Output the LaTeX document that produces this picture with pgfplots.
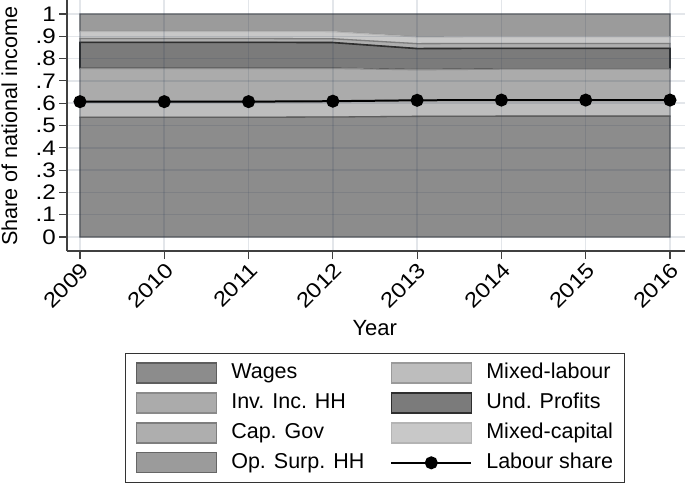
\documentclass[border=0pt]{standalone}
\usepackage{pgfplots}
\usepackage{pgfplotstable}
\pgfplotsset{compat=1.18}
\usepackage{fontspec}
\setmainfont{Liberation Sans}
\newfontfamily\tickfont[FakeStretch=1.15]{Liberation Sans}

\definecolor{fWages}{HTML}{8C8C8C}\definecolor{oWages}{HTML}{5E5E5E}
\definecolor{fMixLab}{HTML}{BDBDBD}\definecolor{oMixLab}{HTML}{9A9A9A}
\definecolor{fInvInc}{HTML}{ABABAB}\definecolor{oInvInc}{HTML}{8A8A8A}
\definecolor{fUndProf}{HTML}{7B7B7B}\definecolor{oUndProf}{HTML}{2E2E2E}
\definecolor{fCapGov}{HTML}{AEAEAE}\definecolor{oCapGov}{HTML}{7E7E7E}
\definecolor{fMixCap}{HTML}{C8C8C8}\definecolor{oMixCap}{HTML}{B4B4B4}
\definecolor{fOpSurp}{HTML}{9B9B9B}\definecolor{oOpSurp}{HTML}{666666}
\definecolor{gridc}{HTML}{1A3050}

\pgfplotstableread{
year wages mixlab invinc undprof capgov mixcap opsurp labour
2009 0.537 0.070 0.149 0.117 0.017 0.032 0.078 0.607
2010 0.537 0.070 0.149 0.117 0.017 0.032 0.078 0.607
2011 0.537 0.070 0.149 0.117 0.017 0.032 0.078 0.607
2012 0.538 0.071 0.147 0.116 0.017 0.032 0.079 0.609
2013 0.541 0.072 0.137 0.095 0.022 0.030 0.103 0.613
2014 0.542 0.072 0.139 0.093 0.022 0.030 0.102 0.614
2015 0.542 0.072 0.139 0.093 0.022 0.030 0.102 0.614
2016 0.542 0.072 0.139 0.093 0.022 0.030 0.102 0.614
}\data

\pgfplotsset{
  base/.style={
    at={(0,0)}, anchor=south west,
    scale only axis, width=618bp, height=251bp,
    xmin=2008.846, xmax=2016.178,
    ymin=-0.0628, ymax=1.0628,
  },
  arealeg/.style={legend image code/.code={\draw[##1] (0bp,-10bp) rectangle (80bp,10bp);}},
  lineleg/.style={legend image code/.code={\draw[##1, mark repeat=2, mark phase=2] plot coordinates {(0bp,0bp) (40bp,0bp) (80bp,0bp)};}},
}

\begin{document}
\begin{tikzpicture}
\begin{axis}[base,
  stack plots=y,
  axis on top,
  axis x line*=bottom, axis y line*=left,
  axis line style={-, draw=black!75, line width=1.2bp},
  tick align=outside,
  major tick length=8bp,
  tick style={draw=black!75, line width=1.1bp},
  xtick={2009,2010,...,2016},
  xticklabels={2009,2010,2011,2012,2013,2014,2015,2016},
  ytick={0,0.1,0.2,0.3,0.4,0.5,0.6,0.7,0.8,0.9,1},
  yticklabels={0,.1,.2,.3,.4,.5,.6,.7,.8,.9,1},
  grid=major,
  major grid style={draw=gridc, opacity=0.12, line width=1.6bp},
  xticklabel style={rotate=45, anchor=north east, inner sep=1.5bp, font=\tickfont\fontsize{21bp}{24bp}\selectfont},
  yticklabel style={anchor=east, inner sep=3bp, font=\tickfont\fontsize{21bp}{24bp}\selectfont},
  xlabel={Year},
  ylabel={Share of national income},
  xlabel style={at={(axis description cs:0.498,-0.307)}, anchor=center, font=\fontsize{22bp}{25bp}\selectfont},
  ylabel style={at={(axis description cs:-0.0809,0.497)}, anchor=base, font=\fontsize{21.6bp}{25bp}\selectfont},
]
\addplot[fill=fWages, draw=oWages, line width=1.3bp] table[x=year,y=wages] {\data} \closedcycle;
\addplot[fill=fMixLab, draw=oMixLab, line width=1.3bp] table[x=year,y=mixlab] {\data} \closedcycle;
\addplot[fill=fInvInc, draw=oInvInc, line width=1.3bp] table[x=year,y=invinc] {\data} \closedcycle;
\addplot[fill=fUndProf, draw=oUndProf, line width=1.6bp] table[x=year,y=undprof] {\data} \closedcycle;
\addplot[fill=fCapGov, draw=oCapGov, line width=1.3bp] table[x=year,y=capgov] {\data} \closedcycle;
\addplot[fill=fMixCap, draw=oMixCap, line width=1.3bp] table[x=year,y=mixcap] {\data} \closedcycle;
\addplot[fill=fOpSurp, draw=oOpSurp, line width=1.3bp] table[x=year,y=opsurp] {\data} \closedcycle;
\end{axis}
\begin{axis}[base, hide axis,
  legend columns=2,
  legend cell align=left,
  legend style={at={(axis description cs:0.4976,-0.4064)}, anchor=north,
    draw=black!80, line width=0.9bp, inner xsep=11bp, inner ysep=9bp, row sep=8.5bp,
    font=\fontsize{21.5bp}{24bp}\selectfont,
    nodes={inner sep=0pt, text height=15bp, text depth=4bp},
    /tikz/every odd column/.style={column sep=14bp},
    /tikz/every even column/.style={column sep=26bp}},
]
\addlegendimage{arealeg, fill=fWages, draw=oWages, line width=1.3bp}
\addlegendentry{Wages}
\addlegendimage{arealeg, fill=fMixLab, draw=oMixLab, line width=1.3bp}
\addlegendentry{Mixed-labour}
\addlegendimage{arealeg, fill=fInvInc, draw=oInvInc, line width=1.3bp}
\addlegendentry{Inv. Inc. HH}
\addlegendimage{arealeg, fill=fUndProf, draw=oUndProf, line width=1.6bp}
\addlegendentry{Und. Profits}
\addlegendimage{arealeg, fill=fCapGov, draw=oCapGov, line width=1.3bp}
\addlegendentry{Cap. Gov}
\addlegendimage{arealeg, fill=fMixCap, draw=oMixCap, line width=1.3bp}
\addlegendentry{Mixed-capital}
\addlegendimage{arealeg, fill=fOpSurp, draw=oOpSurp, line width=1.3bp}
\addlegendentry{Op. Surp. HH}
\addplot[black, line width=2bp, mark=*, mark size=5.5bp, mark options={solid, fill=black}, lineleg]
  table[x=year,y=labour] {\data};
\addlegendentry{Labour share}
\end{axis}
\pgfresetboundingbox
\useasboundingbox (-67bp,-232bp) rectangle (618bp,251bp);
\end{tikzpicture}
\end{document}
